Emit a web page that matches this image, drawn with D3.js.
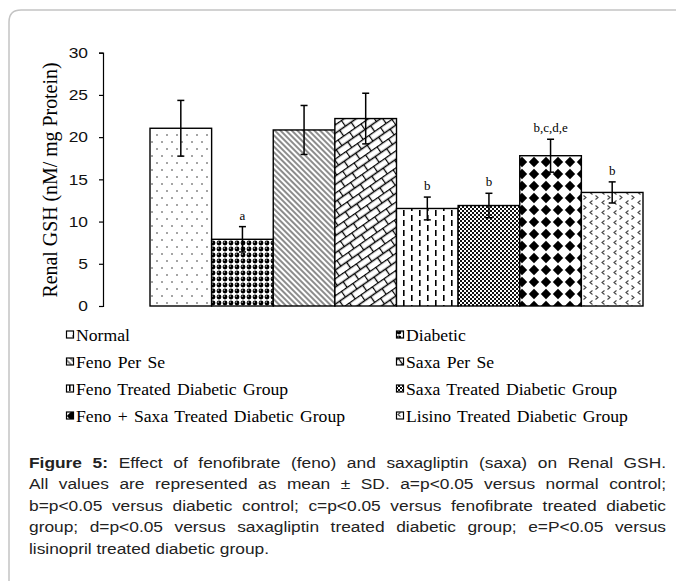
<!DOCTYPE html>
<html>
<head>
<meta charset="utf-8">
<script src="https://cdn.jsdelivr.net/npm/d3@7/dist/d3.min.js"></script>
<style>
  html, body { margin: 0; padding: 0; background: #fff; }
  svg { display: block; }
</style>
</head>
<body>
<svg id="fig" width="676" height="581"></svg>
<script>
// groups, in bar order
var groups = ["Normal", "Diabetic", "Feno Per Se", "Saxa Per Se",
              "Feno Treated Diabetic Group", "Saxa Treated Diabetic Group",
              "Feno + Saxa Treated Diabetic Group", "Lisino Treated Diabetic Group"];
// mean renal GSH (nM/mg protein) and SD
var means = [21.05, 7.9, 20.85, 22.2, 11.55, 11.9, 17.8, 13.45];
var sds = [3.3, 1.5, 2.9, 3.0, 1.35, 1.45, 1.95, 1.25];
var sigLabels = ["", "a", "", "", "b", "b", "b,c,d,e", "b"];
var yTicks = [0, 5, 10, 15, 20, 25, 30];
var patternIds = ["pNormal", "pDiab", "pFeno", "pSaxa", "pFenoT", "pSaxaT", "pCombo", "pLisino"];
var yTitle = "Renal GSH (nM/ mg Protein)";
var captionLines = [
  "Figure 5: Effect of fenofibrate (feno) and saxagliptin (saxa) on Renal GSH.",
  "All values are represented as mean \u00b1 SD. a=p<0.05 versus normal control;",
  "b=p<0.05 versus diabetic control; c=p<0.05 versus fenofibrate treated diabetic",
  "group; d=p<0.05 versus saxagliptin treated diabetic group; e=P<0.05 versus",
  "lisinopril treated diabetic group."
];

var svg = d3.select("#fig");
var defs = svg.append("defs");

// the source figure is a bit wider than tall, so text gets a small x stretch
var STRETCH = 1.12;

// ---- fill patterns (mimic the excel hatch fills)
function pattern(id, w, h, transform) {
    var p = defs.append("pattern")
                .attr("id", id)
                .attr("patternUnits", "userSpaceOnUse")
                .attr("width", w)
                .attr("height", h);
    if (transform) p.attr("patternTransform", transform);
    p.append("rect").attr("width", w).attr("height", h).attr("fill", "#fff");
    return p;
}

var p = pattern("pNormal", 10, 14);
p.append("circle").attr("cx", 2).attr("cy", 2).attr("r", 0.8).attr("fill", "#333");
p.append("circle").attr("cx", 7).attr("cy", 9).attr("r", 0.8).attr("fill", "#333");

// black spheres with a small highlight
p = pattern("pDiab", 6, 6);
p.append("circle").attr("cx", 3).attr("cy", 3).attr("r", 2.4).attr("fill", "#000");
p.append("circle").attr("cx", 2.2).attr("cy", 2.1).attr("r", 0.7).attr("fill", "#fff");

p = pattern("pFeno", 4, 4, "rotate(-45)");
p.append("line").attr("x1", 2).attr("y1", 0).attr("x2", 2).attr("y2", 4)
 .attr("stroke", "#000").attr("stroke-width", 0.9);

p = pattern("pSaxa", 14, 14, "rotate(-35)");
p.append("path")
 .attr("d", "M0,0.5H14M0,7.5H14M0.5,0V7M7.5,7V14")
 .attr("stroke", "#000").attr("stroke-width", 1.3).attr("fill", "none");

// sparse vertical dashes
p = pattern("pFenoT", 16, 10);
p.append("rect").attr("x", 3).attr("y", 0).attr("width", 1.6).attr("height", 6).attr("fill", "#000");
p.append("rect").attr("x", 11).attr("y", 5).attr("width", 1.6).attr("height", 5).attr("fill", "#000");
p.append("rect").attr("x", 11).attr("y", 0).attr("width", 1.6).attr("height", 1).attr("fill", "#000");

p = pattern("pSaxaT", 4, 4);
p.append("rect").attr("x", 0).attr("y", 0).attr("width", 2).attr("height", 2).attr("fill", "#111");
p.append("rect").attr("x", 2).attr("y", 2).attr("width", 2).attr("height", 2).attr("fill", "#111");

p = pattern("pCombo", 12, 12);
p.append("path").attr("d", "M6,0.8L11.2,6L6,11.2L0.8,6Z").attr("fill", "#000");

p = pattern("pLisino", 12, 10);
p.append("path").attr("d", "M4.5,0.5L2,2.5L4.5,4.5M7.5,5.5L10,7.5L7.5,9.5")
 .attr("stroke", "#444").attr("stroke-width", 1.1).attr("fill", "none");

// ---- figure frame (rounded box, clipped by the window)
svg.append("path")
   .attr("d", "M9,600V22Q9,10 21,10H700")
   .attr("fill", "none")
   .attr("stroke", "#c4c4c4")
   .attr("stroke-width", 1.5);

// ---- scales
var x = d3.scaleBand()
          .domain(groups)
          .range([150, 643])
          .padding(0);
var y = d3.scaleLinear()
          .domain([0, 30])
          .range([306, 52.7]);

// ---- y axis
var yAxis = d3.axisLeft(y)
              .tickValues(yTicks)
              .tickSize(4)
              .tickPadding(6);
var yAxisG = svg.append("g")
                .attr("transform", "translate(103,0)")
                .call(yAxis);
yAxisG.select(".domain").attr("stroke", "#000").attr("stroke-width", 1.2);
yAxisG.selectAll(".tick line").attr("stroke", "#000").attr("stroke-width", 1.2);
yAxisG.selectAll(".tick text")
      .attr("font-family", "Liberation Sans, Arial, sans-serif")
      .attr("font-size", 14.5)
      .attr("fill", "#111")
      .attr("transform", "scale(1.2,1)")
      .attr("x", -15 / 1.2);

svg.append("text")
   .attr("transform", "translate(57,180) rotate(-90)")
   .attr("text-anchor", "middle")
   .attr("font-family", "Liberation Serif, Times New Roman, serif")
   .attr("font-size", 20)
   .attr("textLength", 235)
   .attr("lengthAdjust", "spacingAndGlyphs")
   .text(yTitle);

// ---- bars
var bars = svg.append("g").attr("class", "bars");
bars.selectAll("rect")
    .data(groups)
    .enter()
    .append("rect")
    .attr("x", d => x(d))
    .attr("y", (d, i) => y(means[i]))
    .attr("width", x.bandwidth())
    .attr("height", (d, i) => y(0) - y(means[i]))
    .attr("fill", (d, i) => "url(#" + patternIds[i] + ")")
    .attr("stroke", "#000")
    .attr("stroke-width", 1.4);

// ---- error bars
var err = svg.append("g").attr("class", "errors")
             .attr("stroke", "#000").attr("stroke-width", 1.5);
groups.forEach(function(g, i) {
    var cx = x(g) + x.bandwidth() / 2;
    var top = y(means[i] + sds[i]);
    var bot = y(means[i] - sds[i]);
    err.append("line").attr("x1", cx).attr("x2", cx).attr("y1", top).attr("y2", bot);
    err.append("line").attr("x1", cx - 3.5).attr("x2", cx + 3.5).attr("y1", top).attr("y2", top);
    err.append("line").attr("x1", cx - 3.5).attr("x2", cx + 3.5).attr("y1", bot).attr("y2", bot);
});

// significance letters
svg.append("g")
   .selectAll("text")
   .data(groups)
   .enter()
   .append("text")
   .attr("x", d => x(d) + x.bandwidth() / 2)
   .attr("y", (d, i) => y(means[i] + sds[i]) - 7)
   .attr("text-anchor", "middle")
   .attr("font-family", "Liberation Serif, Times New Roman, serif")
   .attr("font-size", 13)
   .text((d, i) => sigLabels[i]);

// ---- legend, two columns
var legendX = [66, 396];
var legendY = [341, 368, 395, 422];
var legend = svg.append("g").attr("class", "legend");
var items = legend.selectAll("g")
                  .data(groups)
                  .enter()
                  .append("g")
                  .attr("transform", (d, i) =>
                        "translate(" + legendX[i % 2] + "," + legendY[Math.floor(i / 2)] + ")");
items.append("rect")
     .attr("x", 0.5).attr("y", -10)
     .attr("width", 7).attr("height", 7)
     .attr("fill", (d, i) => "url(#" + patternIds[i] + ")")
     .attr("stroke", "#000").attr("stroke-width", 1.2);
items.append("text")
     .attr("transform", "translate(10,0) scale(1.07,1)")
     .attr("font-family", "Liberation Serif, Times New Roman, serif")
     .attr("font-size", 16.5)
     .attr("word-spacing", 1.8)
     .text(d => d);

// ---- caption, justified by hand (in stretched coordinates)
var capLeft = 29, capRight = 666, capTop = 468, capStep = 21.5;
var caption = svg.append("g")
                 .attr("transform", "scale(" + STRETCH + ",1)")
                 .attr("font-family", "Liberation Sans, Arial, sans-serif")
                 .attr("font-size", 15.5)
                 .attr("fill", "#222");
captionLines.forEach(function(line, li) {
    var words = line.split(" ");
    var t = caption.append("text").attr("y", capTop + li * capStep);
    var spans = words.map(function(w, wi) {
        var s = t.append("tspan").text(w);
        if (li === 0 && wi < 2) s.attr("font-weight", "bold");
        return s;
    });
    var widths = spans.map(s => s.node().getComputedTextLength());
    var total = d3.sum(widths);
    var last = li === captionLines.length - 1;
    var left = capLeft / STRETCH, right = capRight / STRETCH;
    var gap = last ? 4.3 : (right - left - total) / (words.length - 1);
    var cur = left;
    spans.forEach(function(s, si) {
        s.attr("x", cur);
        cur += widths[si] + gap;
    });
});
</script>
</body>
</html>
